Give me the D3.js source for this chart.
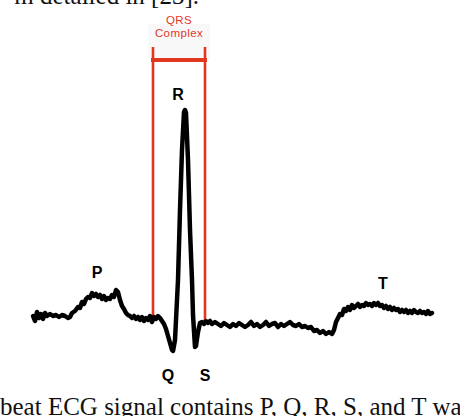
<!DOCTYPE html>
<html>
<head>
<meta charset="utf-8">
<script src="https://cdn.jsdelivr.net/npm/d3@7"></script>
<style>
  html, body { margin: 0; padding: 0; background: #fff; overflow: hidden; }
  svg { display: block; }
</style>
</head>
<body>
<svg class="ecg"></svg>
<script>
// one heartbeat, time in ms, amplitude in microvolts
const timeMs = [0,4,8,12,16,20,24,28,34,40,46,52,58,64,70,74,78,84,90,94,98,102,106,110,114,118,122,126,130,134,138,142,146,150,154,158,162,166,170,174,178,182,186,190,194,198,202,206,210,214,218,222,226,230,234,238,242,246,250,254,258,262,266,270,274,278,280,284,286,290,294,298,302,304,306,310,314,318,320,324,326,330,334,338,342,346,350,354,358,364,370,376,382,388,394,400,406,412,418,424,430,436,442,448,454,460,466,472,478,484,490,496,502,508,514,520,526,532,538,544,550,556,562,568,574,580,586,592,598,602,606,610,614,618,622,626,630,634,638,642,646,650,654,658,662,666,670,674,678,682,686,690,694,698,702,706,710,714,718,722,726,730,734,738,742,746,750,754,758,762,766,770,774,778,782,786,790,794,798];
const ecgUv = [0,-25,20,-10,10,-15,15,0,10,0,5,-5,5,0,-10,-5,15,25,45,40,70,60,85,95,90,115,100,110,95,105,85,100,80,90,85,105,95,130,120,80,50,35,15,5,0,-10,0,-15,-5,-20,-5,-25,-10,-20,0,-30,-5,-15,0,-10,-25,-40,-65,-100,-135,-170,-175,-120,-20,180,530,830,1020,1030,1015,780,430,180,5,-155,-150,-80,-35,-30,-40,-25,-35,-25,-40,-30,-40,-50,-35,-45,-55,-40,-50,-35,-45,-55,-45,-30,-50,-40,-55,-45,-30,-50,-40,-35,-55,-40,-50,-40,-30,-45,-50,-40,-55,-50,-60,-55,-75,-70,-85,-75,-90,-80,-90,-70,-30,-10,10,5,35,25,45,30,55,40,50,60,45,55,50,65,55,60,50,65,55,65,50,55,40,50,35,45,30,40,30,35,20,30,20,30,15,25,15,30,20,15,25,15,20,10,25,10,15];

const qrsBoundsMs = [240, 344];
const waveNames = ["P", "Q", "R", "S", "T"];
const waveTimesMs = [128, 274, 290, 344, 700];

const captionTop = "m detailed in [23].";
const captionBottom = "beat ECG signal contains P, Q, R, S, and T waves";

let width = 460,
    height = 416,
    red = "#e2371f";

let svg = d3.select(".ecg")
  .attr("width", width)
  .attr("height", height)
  .attr("viewBox", "0 0 " + width + " " + height);

let x = d3.scaleLinear().domain([0, 800]).range([33, 433]),
    y = d3.scaleLinear().domain([0, 1000]).range([316, 116]);

let points = timeMs.map((t, i) => [t, ecgUv[i]]);

// amplitude of the trace at a given time
function ampAt(t) {
  let i = d3.bisector(d => d[0]).left(points, t);
  if (i <= 0) return points[0][1];
  if (i >= points.length) return points[points.length - 1][1];
  let a = points[i - 1], b = points[i];
  return a[1] + (b[1] - a[1]) * (t - a[0]) / (b[0] - a[0]);
}

// surrounding paper text, clipped by the crop
svg.append("text")
  .attr("x", 199).attr("y", 4)
  .attr("text-anchor", "end")
  .attr("font-family", "Liberation Serif, Times New Roman, serif")
  .attr("font-size", 25)
  .attr("fill", "#111")
  .text(captionTop);

svg.append("text")
  .attr("x", 0).attr("y", 415)
  .attr("font-family", "Liberation Serif, Times New Roman, serif")
  .attr("font-size", 25)
  .attr("fill", "#111")
  .text(captionBottom);

// QRS bracket
let qrs = svg.append("g");
let bx0 = x(qrsBoundsMs[0]), bx1 = x(qrsBoundsMs[1]);

qrs.append("rect")
  .attr("x", bx0 - 5).attr("y", 24)
  .attr("width", bx1 - bx0 + 10).attr("height", 34)
  .attr("fill", "#f8f8f8");

qrs.selectAll("line.v")
  .data(qrsBoundsMs)
  .enter()
  .append("line")
  .attr("class", "v")
  .attr("x1", d => x(d)).attr("x2", d => x(d))
  .attr("y1", 47).attr("y2", d => y(ampAt(d)))
  .attr("stroke", red)
  .attr("stroke-width", 2.6);

qrs.append("line")
  .attr("x1", bx0 - 2).attr("x2", bx1 + 2)
  .attr("y1", 60).attr("y2", 60)
  .attr("stroke", red)
  .attr("stroke-width", 4);

qrs.selectAll("text")
  .data(["QRS", "Complex"])
  .enter()
  .append("text")
  .attr("x", (bx0 + bx1) / 2)
  .attr("y", (d, i) => 24 + i * 13)
  .attr("text-anchor", "middle")
  .attr("font-family", "Liberation Sans, Arial, sans-serif")
  .attr("font-size", 11.5)
  .attr("letter-spacing", 0.4)
  .attr("fill", red)
  .text(d => d);

// the trace
let line = d3.line()
  .x(d => x(d[0]))
  .y(d => y(d[1]));

svg.append("path")
  .datum(points)
  .attr("d", line)
  .attr("fill", "none")
  .attr("stroke", "#000")
  .attr("stroke-width", 4.5)
  .attr("stroke-linejoin", "round")
  .attr("stroke-linecap", "round");

// wave labels
let labelDx = [0, -2, 0, 0, 0],
    labelY = [278, 381, 100, 381, 289];

svg.selectAll("text.wave")
  .data(waveNames)
  .enter()
  .append("text")
  .attr("class", "wave")
  .attr("x", (d, i) => x(waveTimesMs[i]) + labelDx[i])
  .attr("y", (d, i) => labelY[i])
  .attr("text-anchor", "middle")
  .attr("font-family", "Liberation Sans, Arial, sans-serif")
  .attr("font-weight", "bold")
  .attr("font-size", 16)
  .attr("fill", "#000")
  .text(d => d);
</script>
</body>
</html>
